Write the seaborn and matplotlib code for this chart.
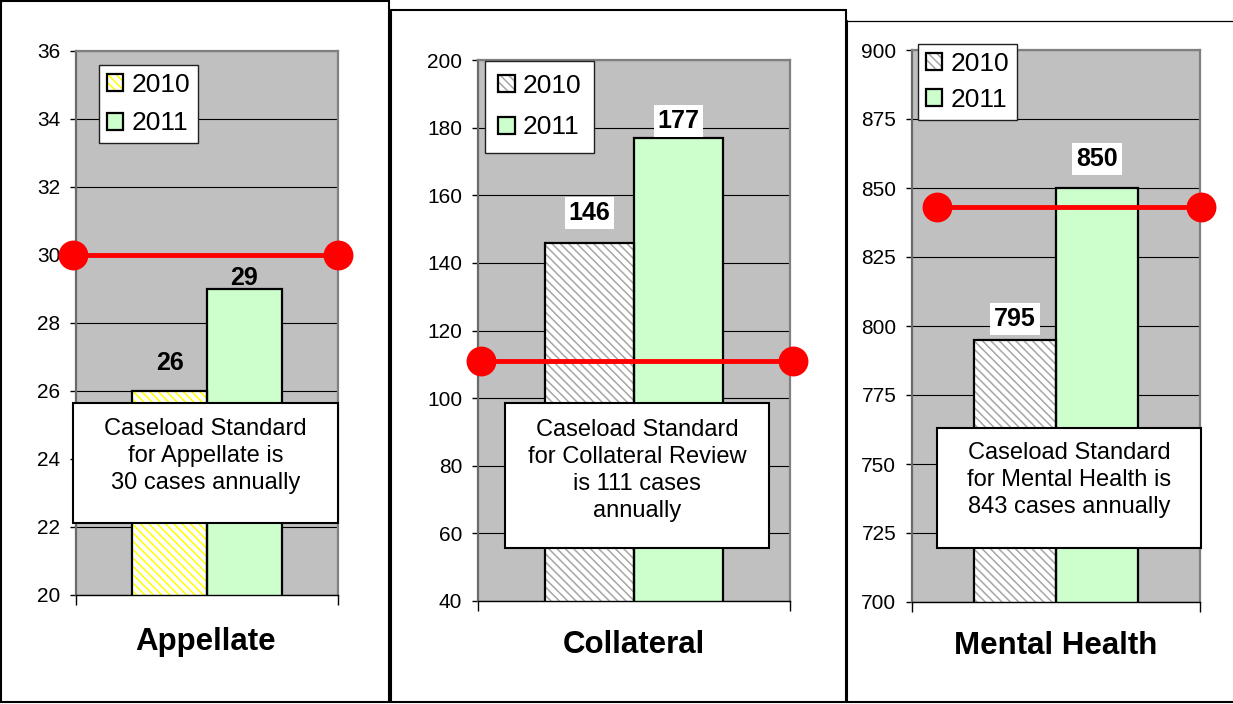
import matplotlib
matplotlib.use("Agg")
import matplotlib.pyplot as plt
from matplotlib.patches import Rectangle, Patch
import pandas as pd
import seaborn as sns

# ---- data ----
panels = ["Appellate", "Collateral", "Mental Health"]
years = ["2010", "2011"]
appellate_cases = [26, 29]
collateral_cases = [146, 177]
mental_health_cases = [795, 850]
caseload_standards = [30, 111, 843]
appellate_ticks = [20, 22, 24, 26, 28, 30, 32, 34, 36]
collateral_ticks = [40, 60, 80, 100, 120, 140, 160, 180, 200]
mental_health_ticks = [700, 725, 750, 775, 800, 825, 850, 875, 900]
notes = [
    ["Caseload Standard", "for Appellate is", "30 cases annually"],
    ["Caseload Standard", "for Collateral Review", "is 111 cases", "annually"],
    ["Caseload Standard", "for Mental Health is", "843 cases annually"],
]
case_values = [appellate_cases, collateral_cases, mental_health_cases]
tick_sets = [appellate_ticks, collateral_ticks, mental_health_ticks]

# ---- page geometry (pixels, origin top-left) ----
W, H = 1233, 704
layout = [
    dict(axes=(76, 51, 338, 595), legend=(99, 65), legend_pad=0.3, legend_gap=0.55,
         note_box=(73, 403, 338, 523), note_top=429,
         title=(206, 642), line_x=(-0.5115, 0.5),
         label_off=(28, 11), label_bg=False, hatch="#FFFF00"),
    dict(axes=(478, 60, 790, 601), legend=(485, 61), legend_pad=0.5, legend_gap=0.65,
         note_box=(505, 403, 769, 548), note_top=430,
         title=(634, 645), line_x=(-0.490, 0.5096),
         label_off=(29.5, 17), label_bg=True, hatch="#A6A6A6"),
    dict(axes=(912, 50, 1200, 602), legend=(918, 44), legend_pad=0.3, legend_gap=0.45,
         note_box=(937, 428, 1201, 548), note_top=453,
         title=(1056, 646), line_x=(-0.413, 0.5035),
         label_off=(21, 29), label_bg=True, hatch="#A6A6A6"),
]
NOTE_PITCH = 27
HATCH = "\\\\\\\\"
GREEN = "#CCFFCC"

sns.set_style("ticks")
plt.rcParams["font.family"] = ["Liberation Sans", "DejaVu Sans"]
plt.rcParams["hatch.linewidth"] = 1.1
for key in ("text.color", "axes.labelcolor", "xtick.color", "ytick.color"):
    plt.rcParams[key] = "black"

fig = plt.figure(figsize=(W / 100, H / 100), dpi=100)
fig.patch.set_facecolor("white")


def fig_rect(l, t, r, b):
    return [l / W, 1 - b / H, (r - l) / W, (b - t) / H]


for name, values, ticks, std, note, lay in zip(
        panels, case_values, tick_sets, caseload_standards, notes, layout):
    ax = fig.add_axes(fig_rect(*lay["axes"]))
    df = pd.DataFrame({"panel": [name] * len(years), "year": years, "cases": values})
    sns.barplot(data=df, x="panel", y="cases", hue="year",
                palette=["white", GREEN], width=0.57, saturation=1,
                edgecolor="black", linewidth=1.6, legend=False, ax=ax)

    # hatched 2010 bar: coloured hatch with a black outline on top
    for patch in ax.containers[0]:
        patch.set_facecolor("white")
        patch.set_edgecolor(lay["hatch"])
        patch.set_hatch(HATCH)
        patch.set_linewidth(0)
        ax.add_patch(Rectangle(patch.get_xy(), patch.get_width(), patch.get_height(),
                               fill=False, edgecolor="black", linewidth=1.6,
                               zorder=patch.get_zorder() + 0.1))

    ax.set_facecolor("#C0C0C0")
    ax.set_xlim(-0.5, 0.5)
    ax.set_ylim(ticks[0], ticks[-1])
    ax.set_yticks(ticks)
    ax.set_yticklabels([str(t) for t in ticks], fontsize=15, color="black")
    ax.set_xticks([-0.5, 0.5])
    ax.set_xticklabels(["", ""])
    ax.set_xlabel("")
    ax.set_ylabel("")
    ax.tick_params(axis="y", length=4.3, width=1, color="black", pad=7)
    ax.tick_params(axis="x", length=7, width=1, color="black")
    ax.yaxis.grid(True, color="black", linewidth=0.8)
    ax.xaxis.grid(False)
    ax.set_axisbelow(True)
    for side in ("top", "right"):
        ax.spines[side].set_color("#808080")
        ax.spines[side].set_linewidth(1.6)
    ax.spines["left"].set_color("#6A6A6A")
    ax.spines["left"].set_linewidth(1.6)
    ax.spines["bottom"].set_color("black")
    ax.spines["bottom"].set_linewidth(1.0)

    # caseload standard line
    ax.plot(lay["line_x"], [std, std], color="red", linewidth=3.5,
            marker="o", markersize=21.5, markeredgewidth=0,
            clip_on=False, zorder=6)

    # value labels above the bars
    for container, off in zip(ax.containers, lay["label_off"]):
        for patch in container:
            val = patch.get_height()
            bbox = (dict(boxstyle="square,pad=0.15", facecolor="white", edgecolor="none")
                    if lay["label_bg"] else None)
            ax.annotate(f"{val:g}", xy=(patch.get_x() + patch.get_width() / 2, val),
                        xytext=(0, off * 0.72), textcoords="offset points",
                        ha="center", va="center", fontsize=18, fontweight="bold",
                        color="black", bbox=bbox, annotation_clip=False, zorder=7)

    # legend
    handles = [
        (Patch(facecolor="white", edgecolor=lay["hatch"], hatch=HATCH, linewidth=0),
         Patch(fill=False, edgecolor="black", linewidth=1.6)),
        Patch(facecolor=GREEN, edgecolor="black", linewidth=1.6),
    ]
    lx, ly = lay["legend"]
    leg = ax.legend(handles, years, loc="upper left",
                    bbox_to_anchor=(lx / W, 1 - ly / H), bbox_transform=fig.transFigure,
                    borderaxespad=0, fontsize=19, frameon=True, fancybox=False,
                    framealpha=1, handlelength=0.62, handleheight=0.62,
                    handletextpad=0.3, labelspacing=lay["legend_gap"],
                    borderpad=lay["legend_pad"])
    for txt in leg.get_texts():
        txt.set_color("black")
    leg.get_frame().set_edgecolor("#202020")
    leg.get_frame().set_linewidth(1.0)
    leg.set_zorder(8)

# overlay for frames, note boxes and panel titles
ov = fig.add_axes([0, 0, 1, 1], zorder=20)
ov.set_xlim(0, W)
ov.set_ylim(H, 0)
ov.axis("off")
ov.patch.set_alpha(0)

ov.add_patch(Rectangle((1, 1), 388, 701, fill=False, edgecolor="black", linewidth=1.5))
ov.add_patch(Rectangle((391, 10), 455, 692, fill=False, edgecolor="black", linewidth=1.5))
ov.plot([847, 847], [21, 702], color="black", linewidth=1.5)
ov.plot([847, W], [21, 21], color="black", linewidth=0.9)
ov.plot([847, W], [702, 702], color="black", linewidth=1.5)

for name, note, lay in zip(panels, notes, layout):
    l, t, r, b = lay["note_box"]
    ov.add_patch(Rectangle((l, t), r - l, b - t, facecolor="white",
                           edgecolor="black", linewidth=1.5))
    cx = (l + r) / 2
    for i, line in enumerate(note):
        ov.text(cx, lay["note_top"] + i * NOTE_PITCH, line, ha="center", va="center",
                fontsize=17, color="black")
    tx, ty = lay["title"]
    ov.text(tx, ty, name, ha="center", va="center", fontsize=22.5,
            fontweight="bold", color="black")

fig.savefig("out.png", dpi=100, facecolor="white")
